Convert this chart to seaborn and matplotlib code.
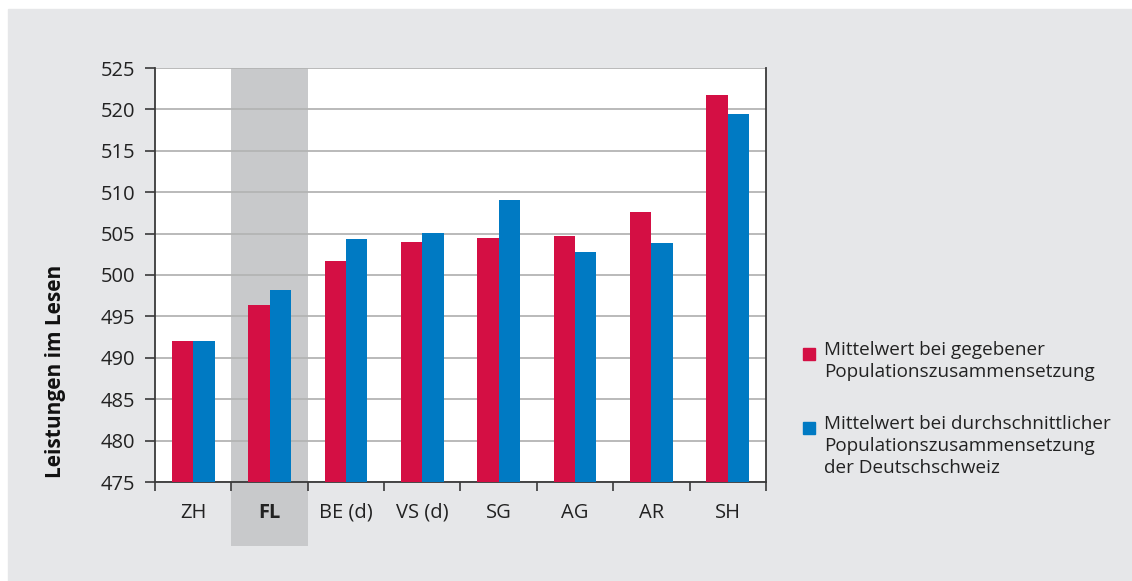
import pandas as pd
import matplotlib.pyplot as plt
import matplotlib.patches as mpatches
import seaborn as sns

# Daten
kantone = ["ZH", "FL", "BE (d)", "VS (d)", "SG", "AG", "AR", "SH"]
gegeben = [492.0, 496.4, 501.7, 504.0, 504.5, 504.7, 507.6, 521.7]
durchschnitt = [492.0, 498.2, 504.3, 505.1, 509.1, 502.8, 503.9, 519.4]
serien = ["Mittelwert bei gegebener\nPopulationszusammensetzung",
          "Mittelwert bei durchschnittlicher\nPopulationszusammensetzung\nder Deutschschweiz"]
y_ticks = list(range(475, 526, 5))

ROT = "#D40F44"
BLAU = "#007AC3"
GRAU_BG = "#E6E7E9"
GRAU_BAND = "#C8C9CB"
TXT = "#222222"

sns.set_theme(style="white")
plt.rcParams['font.family'] = ['Open Sans', 'DejaVu Sans']

df = pd.DataFrame({
    "Kanton": kantone * 2,
    "Wert": gegeben + durchschnitt,
    "Serie": [serien[0]] * len(kantone) + [serien[1]] * len(kantone),
})

W, H = 1132, 581
fig = plt.figure(figsize=(W / 100, H / 100), dpi=100)
fig.patch.set_facecolor("white")
# grauer Hintergrund
fig.add_artist(mpatches.Rectangle((8 / W, 0), 1, 1 - 9 / H,
                                  transform=fig.transFigure, color=GRAU_BG, zorder=-10))

ax = fig.add_axes([155 / W, 1 - 482 / H, 611 / W, 414 / H])
ax.set_facecolor("white")

sns.barplot(data=df, x="Kanton", y="Wert", hue="Serie", palette=[ROT, BLAU],
            saturation=1, width=0.56, ax=ax, legend=False, zorder=3)
for p in ax.patches:
    p.set_edgecolor("none")

ax.set_ylim(475, 525)
ax.set_xlim(-0.5, len(kantone) - 0.5)
ax.set_yticks(y_ticks)
ax.yaxis.grid(True, color="#B4B4B4", lw=1.3)
for line in ax.get_ygridlines():
    line.set_zorder(2)

# FL hervorheben
fl = kantone.index("FL")
ax.axvspan(fl - 0.5, fl + 0.5, ymin=-(546 - 482) / 414, ymax=1,
           color=GRAU_BAND, clip_on=False, zorder=0, lw=0)

for s in ["left", "bottom", "right"]:
    ax.spines[s].set_color("#3A3A3A")
    ax.spines[s].set_linewidth(1.3)
ax.spines["top"].set_visible(False)

ax.set_xticks([i - 0.5 for i in range(len(kantone) + 1)])
ax.set_xticklabels([])
ax.set_xticks(range(len(kantone)), minor=True)
ax.set_xticklabels(kantone, minor=True, fontsize=14.5, color=TXT)
ax.tick_params(axis="x", which="major", direction="out", length=6.5, width=1.2, color="#3A3A3A", bottom=True)
ax.tick_params(axis="x", which="minor", length=0, pad=15, bottom=True)
ax.tick_params(axis="y", direction="out", length=7, width=1.2, color="#3A3A3A",
               labelsize=14.5, labelcolor=TXT, left=True, pad=7)
for lbl in ax.get_xticklabels(minor=True):
    if lbl.get_text() == "FL":
        lbl.set_fontweight("bold")

ax.set_xlabel("")
ax.set_ylabel("Leistungen im Lesen", fontsize=15, fontweight="bold", color="#111111")
ax.yaxis.set_label_coords((66 - 155) / 611, (482 - 371) / 414)

# Legende
legende = [(ROT, serien[0], 348), (BLAU, serien[1], 422)]
for farbe, text, y in legende:
    fig.add_artist(mpatches.Rectangle((803 / W, 1 - (y + 12) / H), 12 / W, 12 / H,
                                      transform=fig.transFigure, color=farbe))
    fig.text(824 / W, 1 - (y - 7) / H, text, ha="left", va="top", fontsize=13.6,
             color=TXT, linespacing=1.3)

fig.savefig("out.png", dpi=100)
